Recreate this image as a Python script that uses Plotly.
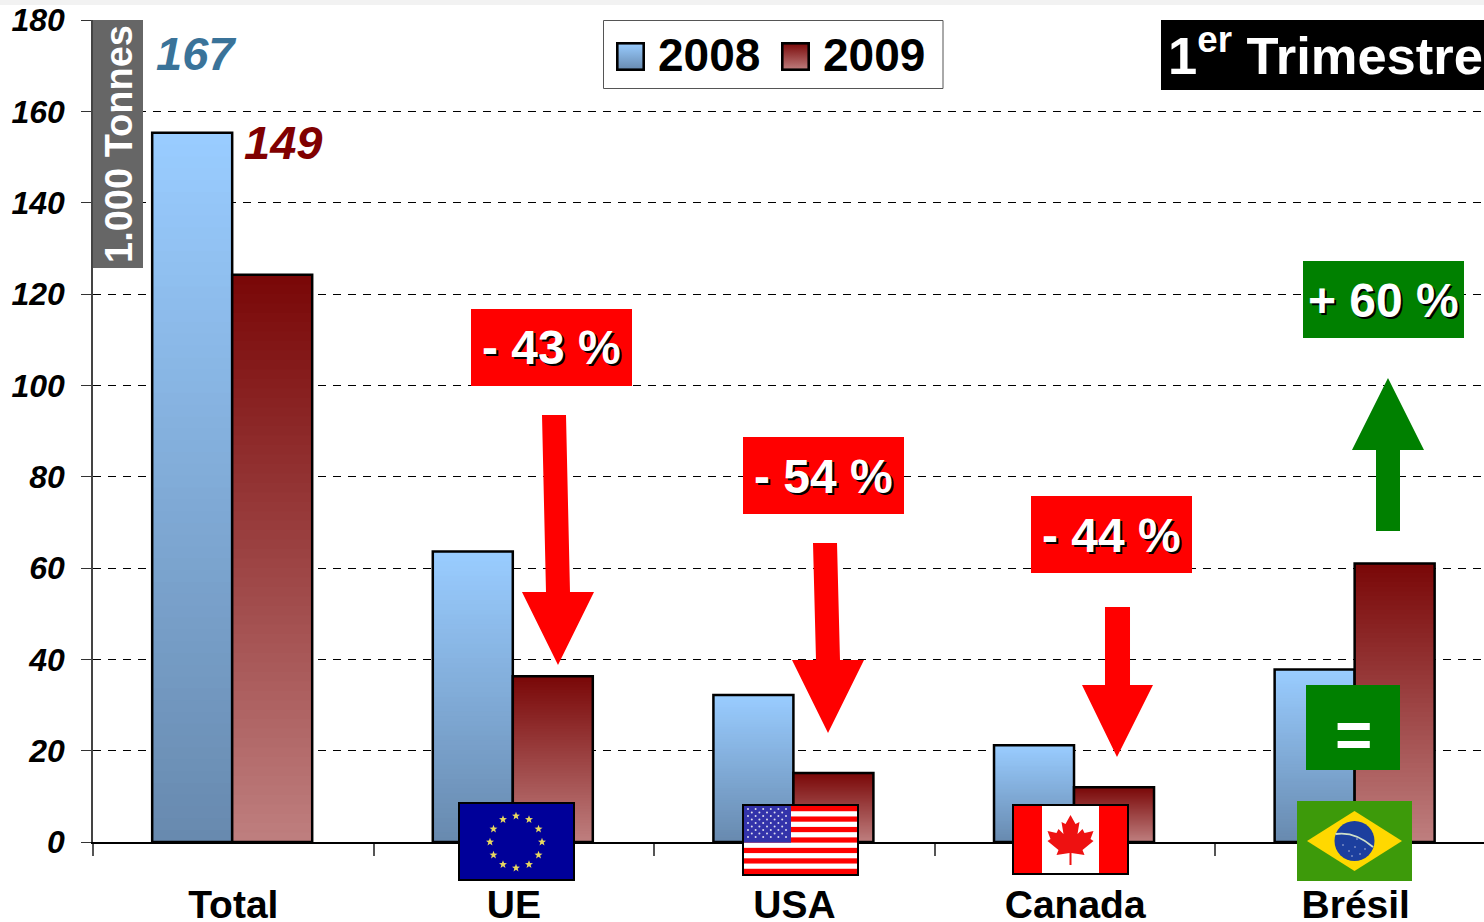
import base64
import math
import plotly.graph_objects as go

# ---------- data ----------
categories = ["Total", "UE", "USA", "Canada", "Brésil"]
values_2008 = [155.3, 63.6, 32.2, 21.2, 37.8]
values_2009 = [124.2, 36.3, 15.1, 12.0, 61.0]
y_ticks = [0, 20, 40, 60, 80, 100, 120, 140, 160, 180]
series_names = ["2008", "2009"]
total_labels = ["167", "149"]
change_labels = ["- 43 %", "- 54 %", "- 44 %", "+ 60 %", "="]
unit_label = "1.000 Tonnes"
period_label = "1<sup>er</sup> Trimestre"

# ---------- geometry ----------
W, H = 1484, 922
EXTRA = 30  # spare canvas under the window, so the category labels do not push the plot up
L, T, B = 93, 20, 842
FONT = "Liberation Sans"
BLUE = ((153, 204, 255), (104, 138, 175))
RED = ((122, 8, 8), (190, 126, 126))
N = 60


def px(x):
    return (x - L) / (W - L)


def py(y):
    return (B - y) / (B - T)


def mix(pair, t):
    a, b = pair
    return "rgb(%d,%d,%d)" % tuple(round(a[i] + (b[i] - a[i]) * t) for i in range(3))


def uri(svg):
    return "data:image/svg+xml;base64," + base64.b64encode(svg.encode()).decode()


def grad_svg(pair):
    return uri(
        f'<svg xmlns="http://www.w3.org/2000/svg" width="28" height="28" viewBox="0 0 28 28" preserveAspectRatio="none">'
        f'<defs><linearGradient id="g" x1="0" y1="0" x2="0" y2="1"><stop offset="0" stop-color="{mix(pair,0)}"/>'
        f'<stop offset="1" stop-color="{mix(pair,1)}"/></linearGradient></defs>'
        f'<rect x="1.25" y="1.25" width="25.5" height="25.5" fill="url(#g)" stroke="#000" stroke-width="2.5"/></svg>'
    )


def star(cx, cy, r, fill):
    pts = []
    for i in range(10):
        a = -math.pi / 2 + i * math.pi / 5
        q = r if i % 2 == 0 else r * 0.42
        pts.append(f"{cx + q * math.cos(a):.2f},{cy + q * math.sin(a):.2f}")
    return f'<polygon points="{" ".join(pts)}" fill="{fill}"/>'


def flag_eu():
    s = '<svg xmlns="http://www.w3.org/2000/svg" width="117" height="79" viewBox="0 0 117 79" preserveAspectRatio="none">'
    s += '<rect x="1" y="1" width="115" height="77" fill="#000099" stroke="#000" stroke-width="2"/>'
    for i in range(12):
        a = i * math.pi / 6
        s += star(58 + 26 * math.sin(a), 40 - 26 * math.cos(a), 4.2, "#e8d860")
    return uri(s + "</svg>")


def flag_us():
    s = '<svg xmlns="http://www.w3.org/2000/svg" width="117" height="72" viewBox="0 0 117 72" preserveAspectRatio="none">'
    s += '<rect width="117" height="72" fill="#fff"/>'
    h = 68 / 13
    for i in range(0, 13, 2):
        s += f'<rect x="2" y="{2 + i * h:.2f}" width="113" height="{h:.2f}" fill="#ff0000"/>'
    s += f'<rect x="2" y="2" width="47" height="{7 * h:.2f}" fill="#3333aa"/>'
    for r in range(9):
        cols = 6 if r % 2 == 0 else 5
        for c in range(cols):
            x = 6 + c * 7.6 + (0 if r % 2 == 0 else 3.8)
            y = 5 + r * 3.5
            s += f'<circle cx="{x:.1f}" cy="{y:.1f}" r="1" fill="#dde"/>'
    s += '<rect x="1" y="1" width="115" height="70" fill="none" stroke="#000" stroke-width="2"/>'
    return uri(s + "</svg>")


def flag_ca():
    s = '<svg xmlns="http://www.w3.org/2000/svg" width="117" height="71" viewBox="0 0 117 71" preserveAspectRatio="none">'
    s += '<rect width="117" height="71" fill="#fff"/>'
    s += '<rect x="1" y="1" width="29" height="69" fill="#ff0000"/><rect x="87" y="1" width="29" height="69" fill="#ff0000"/>'
    leaf = [(0, -24), (5, -15), (9, -17), (7, -5), (12, -10), (14, -6), (23, -8), (20, 0), (23, 2),
            (12, 11), (14, 16), (1, 14), (1, 26), (-1, 26), (-1, 14), (-14, 16), (-12, 11),
            (-23, 2), (-20, 0), (-23, -8), (-14, -6), (-12, -10), (-7, -5), (-9, -17), (-5, -15)]
    pts = " ".join(f"{58.5 + a},{35 + b}" for a, b in leaf)
    s += f'<polygon points="{pts}" fill="#ee1111"/>'
    s += '<rect x="1" y="1" width="115" height="69" fill="none" stroke="#000" stroke-width="2"/>'
    return uri(s + "</svg>")


def flag_br():
    s = '<svg xmlns="http://www.w3.org/2000/svg" width="115" height="80" viewBox="0 0 115 80" preserveAspectRatio="none">'
    s += '<rect width="115" height="80" fill="#3d9a0a"/>'
    s += '<polygon points="10,40 57.5,10 105,40 57.5,70" fill="#ffd800"/>'
    s += '<circle cx="57.5" cy="40" r="20" fill="#1c3f9e"/>'
    s += '<path d="M38.5,33 Q58,30 76,46" fill="none" stroke="#cfe0c8" stroke-width="1.8"/>'
    for x, y in ((46, 44), (52, 50), (58, 46), (63, 53), (68, 48), (55, 55), (60, 38)):
        s += f'<circle cx="{x}" cy="{y}" r="0.7" fill="#dde"/>'
    return uri(s + "</svg>")


def rect(x0, y0, x1, y1, fill, line=None, lw=0):
    return dict(type="rect", xref="paper", yref="paper", x0=px(x0), x1=px(x1), y0=py(y1), y1=py(y0),
                fillcolor=fill, line=dict(color=line or fill, width=lw), layer="above")


def poly(points, fill):
    d = "M" + " L".join(f"{px(x):.5f},{py(y):.5f}" for x, y in points) + " Z"
    return dict(type="path", xref="paper", yref="paper", path=d, fillcolor=fill,
                line=dict(color=fill, width=0), layer="above")


def note(x, y, text, size, color="#000", anchor="center", bold=True, italic=False, angle=0, shadow=None):
    f = dict(family=FONT, size=size, color=color, weight="bold" if bold else "normal",
             style="italic" if italic else "normal")
    if shadow:
        f["shadow"] = shadow
    return dict(xref="paper", yref="paper", x=px(x), y=py(y), text=text, showarrow=False, xanchor=anchor,
                yanchor="middle", font=f, textangle=angle, borderpad=0, bgcolor="rgba(0,0,0,0)")


def image(src, x0, y0, x1, y1):
    return dict(source=src, xref="paper", yref="paper", x=px(x0), y=py(y0), sizex=(x1 - x0) / (W - L),
                sizey=(y1 - y0) / (B - T), sizing="stretch", xanchor="left", yanchor="top", layer="above")


# ---------- traces ----------
fig = go.Figure()
BAR_W = 80 / 280.6
SHIFT = -0.004
for vals, pair, off, name in ((values_2008, BLUE, -BAR_W + SHIFT, series_names[0]), (values_2009, RED, SHIFT, series_names[1])):
    xs, ys, cols = [], [], []
    for k in range(N):
        for c, v in zip(categories, vals):
            xs.append(c)
            ys.append(v * (N - k) / N)
            cols.append(mix(pair, k / (N - 1)))
    fig.add_trace(go.Bar(x=xs, y=ys, width=BAR_W, offset=off, marker=dict(color=cols, line=dict(width=0)),
                         hoverinfo="skip", showlegend=False, name=name))
    fig.add_trace(go.Bar(x=categories, y=vals, width=BAR_W, offset=off, showlegend=False, name=name,
                         marker=dict(color="rgba(0,0,0,0)", line=dict(color="#000", width=2.5))))

# ---------- decorations ----------
shapes = [
    rect(0, 0, W, 5, "#f2f2f2"),
    rect(93, 20, 143, 268, "#666666"),
    rect(603.5, 20.5, 943, 88.5, "rgba(255,255,255,0)", "#555555", 1),
    rect(1161, 20, W, 90, "#000000"),
    rect(471, 309, 632, 386, "#ff0000"),
    rect(743, 437, 904, 514, "#ff0000"),
    rect(1031, 496, 1192, 573, "#ff0000"),
    rect(1303, 261, 1464, 338, "#008000"),
    rect(1306, 685, 1400, 770, "#008000"),
    poly([(542, 415), (566, 415), (570, 592), (594, 592), (558, 665), (522, 592), (546, 592)], "#ff0000"),
    poly([(813, 543), (837, 543), (840, 660), (864, 660), (828, 733), (792, 660), (816, 660)], "#ff0000"),
    poly([(1105, 607), (1130, 607), (1130, 685), (1153, 685), (1117, 757), (1082, 685), (1105, 685)], "#ff0000"),
    poly([(1388, 378), (1424, 450), (1400, 450), (1400, 531), (1376, 531), (1376, 450), (1352, 450)], "#008000"),
]

SH = "2px 2px 0 #000"
annotations = [
    note(119, 144, unit_label, 38, "#ffffff", angle=-90),
    note(155, 54, total_labels[0], 47, "#3a7399", "left", italic=True),
    note(243, 142, total_labels[1], 47, "#800000", "left", italic=True),
    note(657, 55, series_names[0], 46, "#000", "left"),
    note(822, 55, series_names[1], 46, "#000", "left"),
    note(1167, 52, period_label, 52.5, "#ffffff", "left"),
    note(551.5, 348, change_labels[0], 48, "#ffffff", shadow=SH),
    note(823.5, 476, change_labels[1], 48, "#ffffff", shadow=SH),
    note(1111.5, 535, change_labels[2], 48, "#ffffff", shadow=SH),
    note(1383.5, 300, change_labels[3], 48, "#ffffff", shadow=SH),
    note(1353, 735, change_labels[4], 64, "#ffffff"),
]

images = [
    image(grad_svg(BLUE), 616, 42, 645, 71),
    image(grad_svg(RED), 781, 42, 810, 71),
    image(flag_eu(), 458, 802, 575, 881),
    image(flag_us(), 742, 804, 859, 876),
    image(flag_ca(), 1012, 804, 1129, 875),
    image(flag_br(), 1297, 801, 1412, 881),
]

fig.update_layout(
    width=W, height=H + EXTRA, autosize=False,
    margin=dict(l=L, r=0, t=T, b=H + EXTRA - B, pad=0),
    paper_bgcolor="#ffffff", plot_bgcolor="#ffffff",
    barmode="overlay", showlegend=False,
    shapes=shapes, annotations=annotations, images=images,
    xaxis=dict(type="category", categoryorder="array", categoryarray=categories, range=[-0.5, 4.457],
               tickson="boundaries", ticks="outside", ticklen=12, tickcolor="#555555", tickwidth=1.5,
               showgrid=False, showline=True, linecolor="#000", linewidth=2, zeroline=False,
               ticklabelstandoff=27,
               tickfont=dict(family=FONT, size=39, color="#000", weight="bold")),
    yaxis=dict(range=[0, 180], tickmode="array", tickvals=y_ticks, ticktext=[str(v) for v in y_ticks],
               ticks="outside", ticklen=10, tickcolor="#333333", tickwidth=1.2,
               showgrid=True, gridcolor="#000", gridwidth=1, griddash="8px,7px",
               showline=True, linecolor="#444444", linewidth=1.5, zeroline=False,
               ticklabelstandoff=10,
               tickfont=dict(family=FONT, size=32, color="#000", weight="bold", style="italic")),
)

fig.write_html("out.html", config={"displayModeBar": False},
               post_script="document.body.style.margin='0';document.body.style.overflow='hidden';")
